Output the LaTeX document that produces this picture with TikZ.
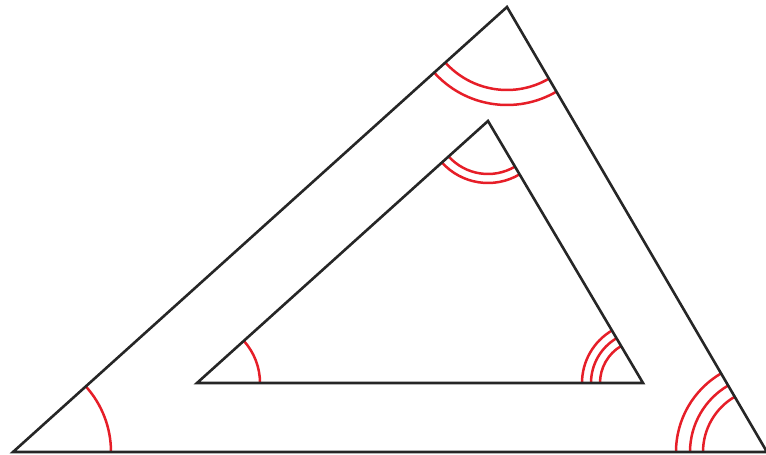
\documentclass[tikz,border=0pt]{standalone}
\usetikzlibrary{angles}
\definecolor{arcred}{RGB}{230,30,40}
\begin{document}
\begin{tikzpicture}[x=1pt,y=1pt,
  edge/.style={draw=black!85,line width=2.6pt,line join=miter},
  arcmark/.style={draw=arcred,line width=2.5pt}]
\useasboundingbox (0,0) rectangle (766,455);
% outer triangle
\coordinate (A) at (13,3);
\coordinate (B) at (507,448);
\coordinate (C) at (767,3);
% inner triangle
\coordinate (a) at (197,72);
\coordinate (b) at (488,334);
\coordinate (c) at (643,72);
% angle marks (outer)
\pic[arcmark,angle radius=98pt] {angle = C--A--B};
\pic[arcmark,angle radius=98pt] {angle = A--B--C};
\pic[arcmark,angle radius=83pt] {angle = A--B--C};
\pic[arcmark,angle radius=91pt] {angle = B--C--A};
\pic[arcmark,angle radius=77pt] {angle = B--C--A};
\pic[arcmark,angle radius=64pt] {angle = B--C--A};
% angle marks (inner)
\pic[arcmark,angle radius=63pt] {angle = c--a--b};
\pic[arcmark,angle radius=62pt] {angle = a--b--c};
\pic[arcmark,angle radius=53pt] {angle = a--b--c};
\pic[arcmark,angle radius=61pt] {angle = b--c--a};
\pic[arcmark,angle radius=52pt] {angle = b--c--a};
\pic[arcmark,angle radius=43pt] {angle = b--c--a};
% triangles
\draw[edge] (A) -- (B) -- (C) -- cycle;
\draw[edge] (a) -- (b) -- (c) -- cycle;
\end{tikzpicture}
\end{document}
